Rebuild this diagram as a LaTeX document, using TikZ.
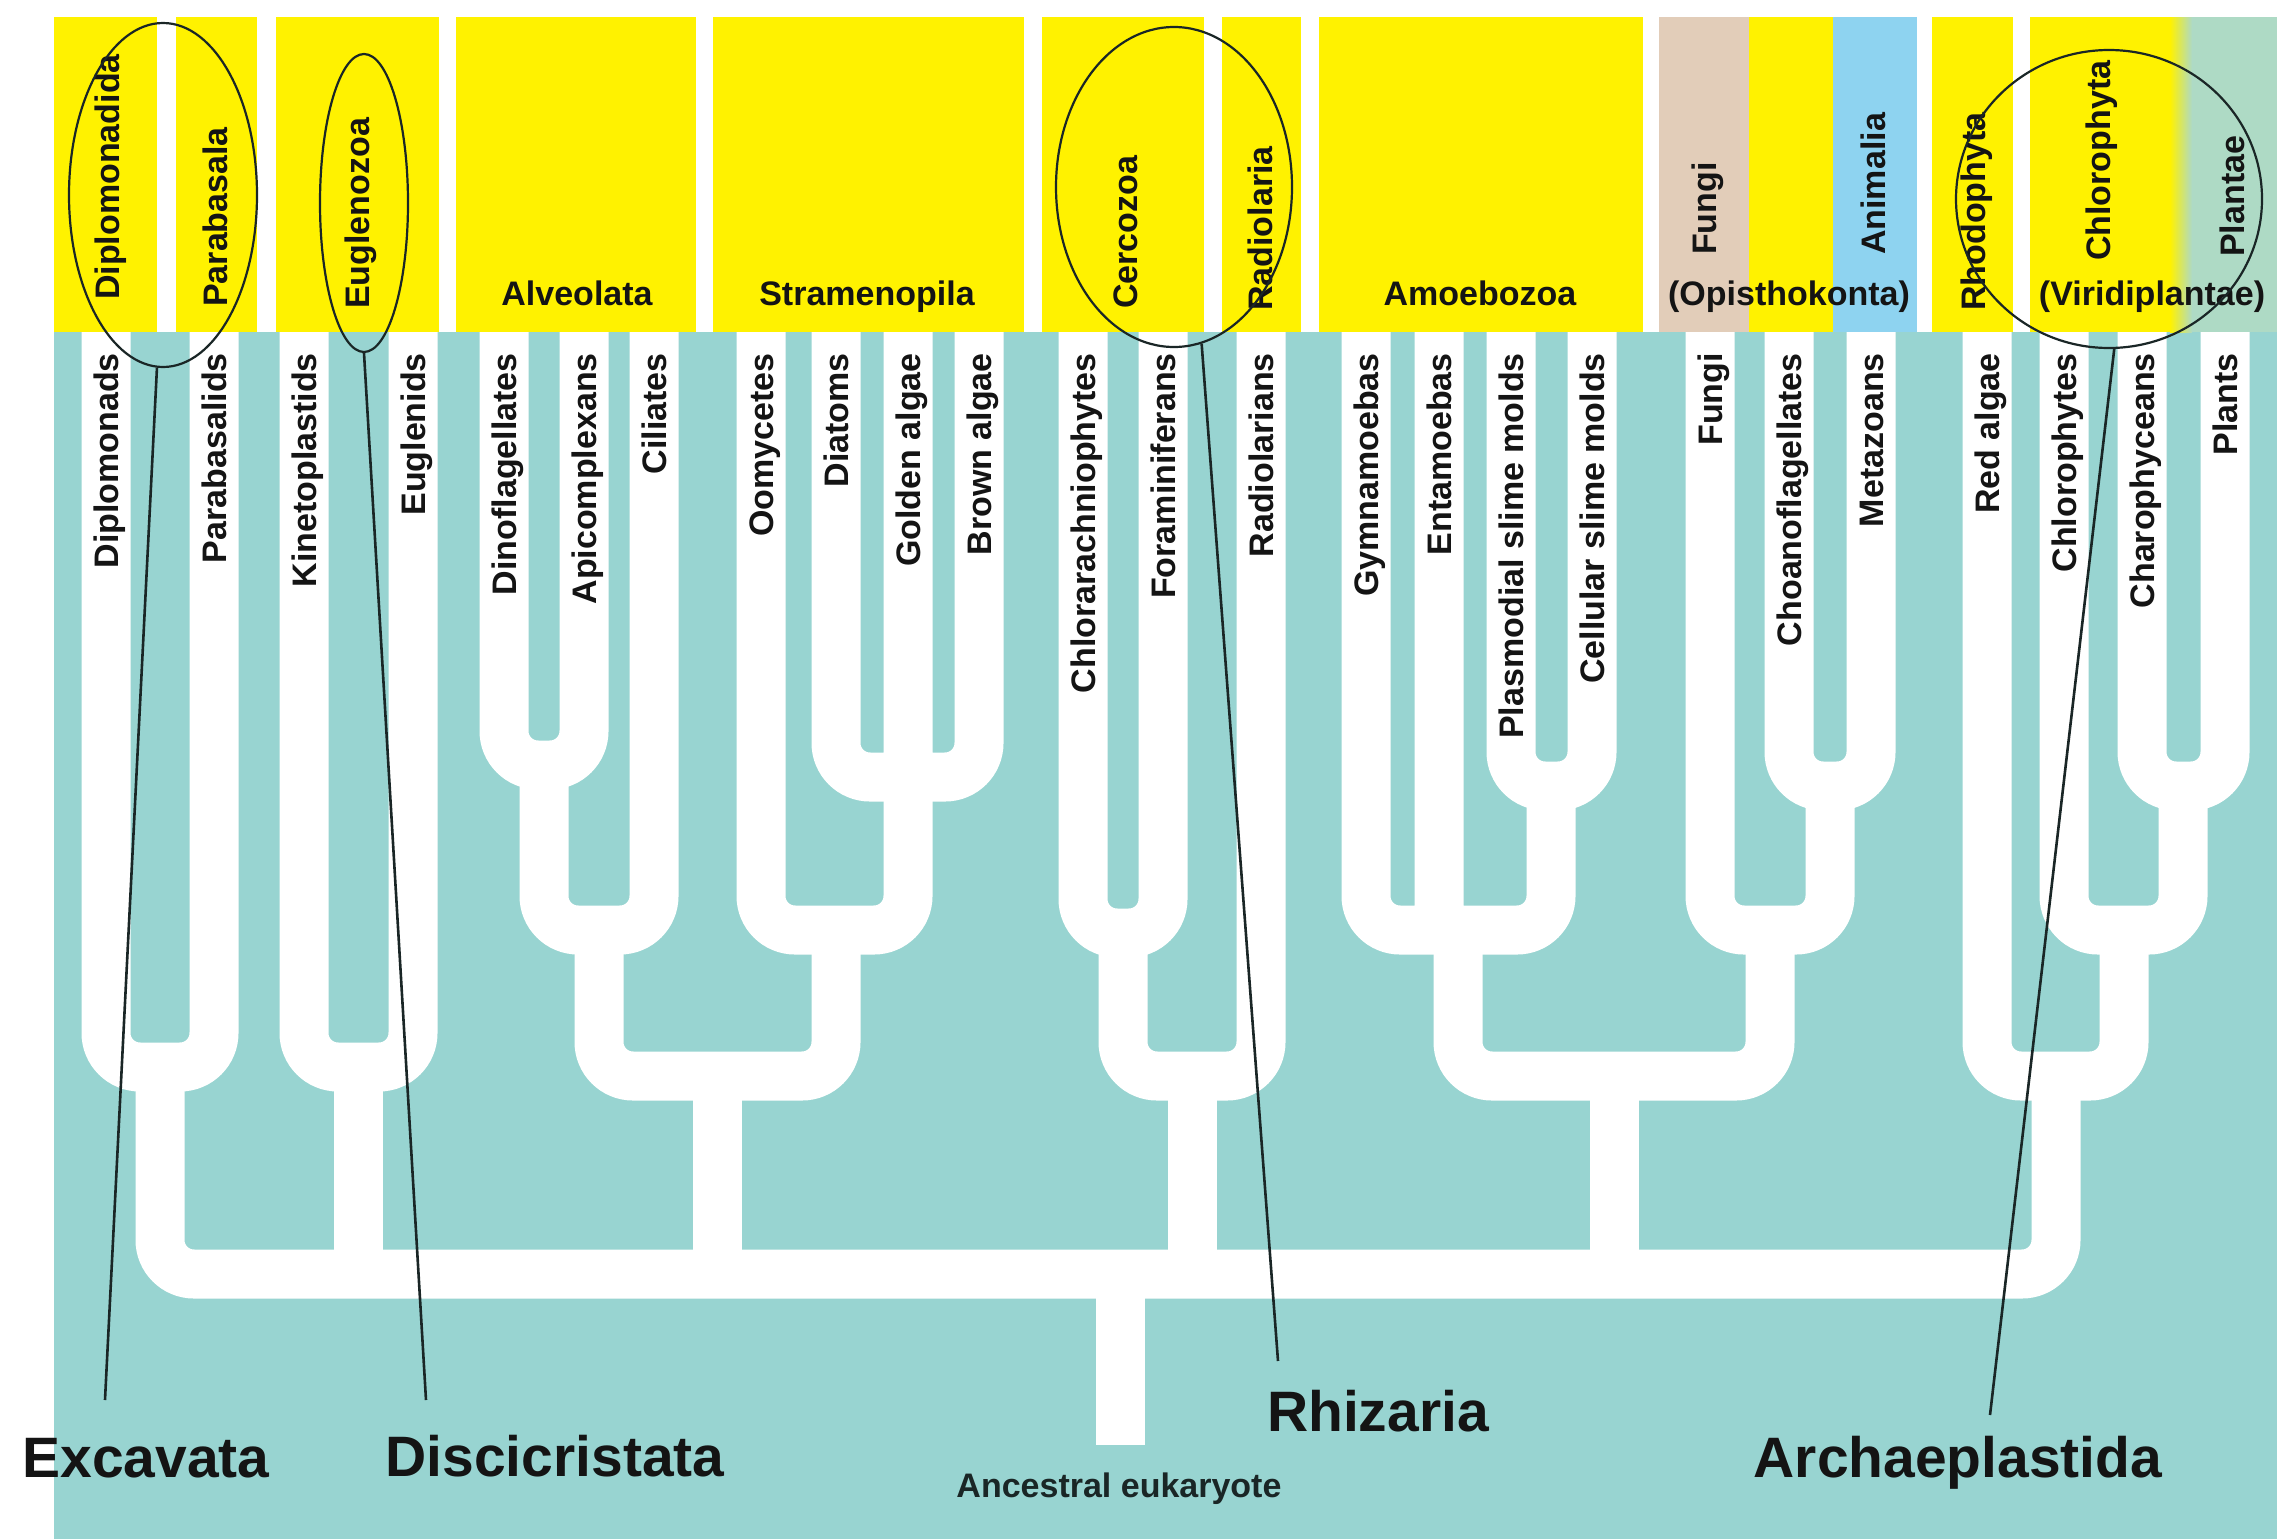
\documentclass[tikz,border=0pt]{standalone}
\usepackage{fontspec}
\setmainfont{Liberation Sans}
\usetikzlibrary{shapes.geometric}
\definecolor{tealbg}{HTML}{98D4D1}
\definecolor{hdryellow}{HTML}{FFF200}
\definecolor{fungibeige}{HTML}{E2CDB9}
\definecolor{animblue}{HTML}{8ED3F0}
\definecolor{plantgreen}{HTML}{AEDAC5}
\definecolor{inkdark}{HTML}{141414}
\definecolor{inkline}{HTML}{1A2626}
\newcommand{\tipfont}{\fontsize{34}{38}\selectfont\bfseries}
\newcommand{\cladefont}{\fontsize{57}{62}\selectfont\bfseries}
\newcommand{\rootfont}{\fontsize{34}{38}\selectfont\bfseries}

\begin{document}
\begin{tikzpicture}[x=1pt,y=-1pt,
  branch/.style={draw=white, line width=49pt, rounded corners=34pt},
  tip/.style={rotate=90, anchor=east, inner sep=0pt, text height=24pt, text depth=0pt, font=\tipfont, text=inkdark},
  clade/.style={rotate=90, anchor=west, inner sep=0pt, text height=24pt, text depth=0pt, font=\tipfont, text=inkdark},
  group/.style={anchor=base, inner sep=0pt, font=\tipfont, text=inkdark},
  bigname/.style={anchor=base, inner sep=0pt, font=\cladefont, text=inkdark},
  rootname/.style={anchor=base, inner sep=0pt, font=\rootfont, text=inkline},
  ring/.style={ellipse, draw=inkline, line width=2.2pt, inner sep=0pt},
  pointer/.style={draw=inkline, line width=2.6pt}]
\useasboundingbox (0,0) rectangle (2281,1539);
\fill[tealbg] (54,332) rectangle (2277,1539);
\fill[hdryellow] (54,17) rectangle (157,332);
\fill[hdryellow] (176,17) rectangle (257,332);
\fill[hdryellow] (276,17) rectangle (439,332);
\fill[hdryellow] (456,17) rectangle (696,332);
\fill[hdryellow] (713,17) rectangle (1024,332);
\fill[hdryellow] (1042,17) rectangle (1204,332);
\fill[hdryellow] (1222,17) rectangle (1301,332);
\fill[hdryellow] (1319,17) rectangle (1643,332);
\fill[fungibeige] (1659,17) rectangle (1749,332);
\fill[hdryellow] (1749,17) rectangle (1833,332);
\fill[animblue] (1833,17) rectangle (1917,332);
\fill[hdryellow] (1932,17) rectangle (2013,332);
\fill[hdryellow] (2030,17) rectangle (2170,332);
\shade[left color=hdryellow, right color=plantgreen] (2170,17) rectangle (2192,332);
\fill[plantgreen] (2192,17) rectangle (2277,332);

\coordinate (dipl) at (106,332);
\coordinate (para) at (214,332);
\coordinate (kine) at (304,332);
\coordinate (eugl) at (413,332);
\coordinate (dino) at (504,332);
\coordinate (apic) at (584,332);
\coordinate (cili) at (654,332);
\coordinate (oomy) at (761,332);
\coordinate (diat) at (836,332);
\coordinate (gold) at (908,332);
\coordinate (brow) at (979,332);
\coordinate (chlo) at (1083,332);
\coordinate (fora) at (1163,332);
\coordinate (radi) at (1261,332);
\coordinate (gymn) at (1366,332);
\coordinate (enta) at (1439,332);
\coordinate (plas) at (1511,332);
\coordinate (cell) at (1592,332);
\coordinate (fung) at (1710,332);
\coordinate (choa) at (1789,332);
\coordinate (meta) at (1871,332);
\coordinate (reda) at (1987,332);
\coordinate (chph) at (2064,332);
\coordinate (char) at (2142,332);
\coordinate (plnt) at (2225,332);
\coordinate (exca) at (160,1067);
\coordinate (eugz) at (358,1067);
\coordinate (dnap) at (544,765);
\coordinate (alve) at (599,930);
\coordinate (stri) at (908,777);
\coordinate (stra) at (836,930);
\coordinate (alst) at (717,1076);
\coordinate (cerc) at (1123,933);
\coordinate (rhiz) at (1192,1076);
\coordinate (slim) at (1551,786);
\coordinate (amoe) at (1458,930);
\coordinate (choz) at (1830,786);
\coordinate (opis) at (1770,930);
\coordinate (amop) at (1614,1076);
\coordinate (chcp) at (2183,786);
\coordinate (viri) at (2124,930);
\coordinate (arch) at (2056,1076);
\coordinate (root) at (1120,1274);
\coordinate (base) at (1120,1445);

\draw[branch] (exca) -| (dipl) (exca) -| (para);
\draw[branch] (eugz) -| (kine) (eugz) -| (eugl);
\draw[branch] (dnap) -| (dino) (dnap) -| (apic);
\draw[branch] (alve) -| (dnap) (alve) -| (cili);
\draw[branch] (stri) -| (diat) (stri) -| (brow) (stri) -- (gold);
\draw[branch] (stra) -| (oomy) (stra) -| (stri);
\draw[branch] (alst) -| (alve) (alst) -| (stra);
\draw[branch] (cerc) -| (chlo) (cerc) -| (fora);
\draw[branch] (rhiz) -| (cerc) (rhiz) -| (radi);
\draw[branch] (slim) -| (plas) (slim) -| (cell);
\draw[branch] (amoe) -| (gymn) (amoe) -| (slim) (enta) -- (enta |- amoe);
\draw[branch] (choz) -| (choa) (choz) -| (meta);
\draw[branch] (opis) -| (fung) (opis) -| (choz);
\draw[branch] (amop) -| (amoe) (amop) -| (opis);
\draw[branch] (chcp) -| (char) (chcp) -| (plnt);
\draw[branch] (viri) -| (chph) (viri) -| (chcp);
\draw[branch] (arch) -| (reda) (arch) -| (viri);
\draw[branch] (root) -| (exca) (root) -| (arch);
\draw[branch] (eugz) -- (eugz |- root) (alst) -- (alst |- root) (rhiz) -- (rhiz |- root) (amop) -- (amop |- root) (root) -- (base);

\node[tip] (tDipl) at (106,353) {Diplomonads};
\node[tip] (tPara) at (214,353) {Parabasalids};
\node[tip] (tKine) at (304,353) {Kinetoplastids};
\node[tip] (tEugl) at (413,353) {Euglenids};
\node[tip] (tDino) at (504,353) {Dinoflagellates};
\node[tip] (tApic) at (584,353) {Apicomplexans};
\node[tip] (tCili) at (654,353) {Ciliates};
\node[tip] (tOomy) at (761,353) {Oomycetes};
\node[tip] (tDiat) at (836,353) {Diatoms};
\node[tip] (tGold) at (908,353) {Golden algae};
\node[tip] (tBrow) at (979,353) {Brown algae};
\node[tip] (tChlo) at (1083,353) {Chlorarachniophytes};
\node[tip] (tFora) at (1163,353) {Foraminiferans};
\node[tip] (tRadi) at (1261,353) {Radiolarians};
\node[tip] (tGymn) at (1366,353) {Gymnamoebas};
\node[tip] (tEnta) at (1439,353) {Entamoebas};
\node[tip] (tPlas) at (1511,353) {Plasmodial slime molds};
\node[tip] (tCell) at (1592,353) {Cellular slime molds};
\node[tip] (tFung) at (1710,353) {Fungi};
\node[tip] (tChoa) at (1789,353) {Choanoflagellates};
\node[tip] (tMeta) at (1871,353) {Metazoans};
\node[tip] (tReda) at (1987,353) {Red algae};
\node[tip] (tChph) at (2064,353) {Chlorophytes};
\node[tip] (tChar) at (2142,353) {Charophyceans};
\node[tip] (tPlnt) at (2225,353) {Plants};

\node[clade] (hDipl) at (107,300) {Diplomonadida};
\node[clade] (hPara) at (215,307) {Parabasala};
\node[clade] (hEugz) at (357,309) {Euglenozoa};
\node[group] (hAlve) at (577,305) {Alveolata};
\node[group] (hStra) at (867,305) {Stramenopila};
\node[clade] (hCerc) at (1125,309) {Cercozoa};
\node[clade] (hRadi) at (1260,311) {Radiolaria};
\node[group] (hAmoe) at (1480,305) {Amoebozoa};
\node[clade] (hFung) at (1704,255) {Fungi};
\node[group] (hOpis) at (1789,305) {(Opisthokonta)};
\node[clade] (hAnim) at (1873,255) {Animalia};
\node[clade] (hRhod) at (1973,311) {Rhodophyta};
\node[clade] (hChlo) at (2098,261) {Chlorophyta};
\node[group] (hViri) at (2152,305) {(Viridiplantae)};
\node[clade] (hPlnt) at (2232,257) {Plantae};

\node[ring, minimum width=188pt, minimum height=344pt] (ringExc) at (163,195) {};
\node[ring, minimum width=88pt, minimum height=298pt] (ringEug) at (364,203) {};
\node[ring, minimum width=236pt, minimum height=320pt] (ringRhi) at (1174,187) {};
\node[ring, minimum width=306pt, minimum height=298pt] (ringArc) at (2109,199) {};

\node[bigname] (exc) at (146,1477) {Excavata};
\node[bigname] (dis) at (555,1476) {Discicristata};
\node[bigname] (rhi) at (1378,1431) {Rhizaria};
\node[bigname] (arc) at (1958,1477) {Archaeplastida};
\node[rootname] (anc) at (1119,1497) {Ancestral eukaryote};

\coordinate (excEnd) at (105,1400);
\coordinate (disEnd) at (426,1400);
\coordinate (rhiEnd) at (1278,1361);
\coordinate (arcEnd) at (1990,1415);
\draw[pointer] (ringExc.268) -- (excEnd);
\draw[pointer] (ringEug.south) -- (disEnd);
\draw[pointer] (ringRhi.280) -- (rhiEnd);
\draw[pointer] (ringArc.272) -- (arcEnd);
\end{tikzpicture}
\end{document}
